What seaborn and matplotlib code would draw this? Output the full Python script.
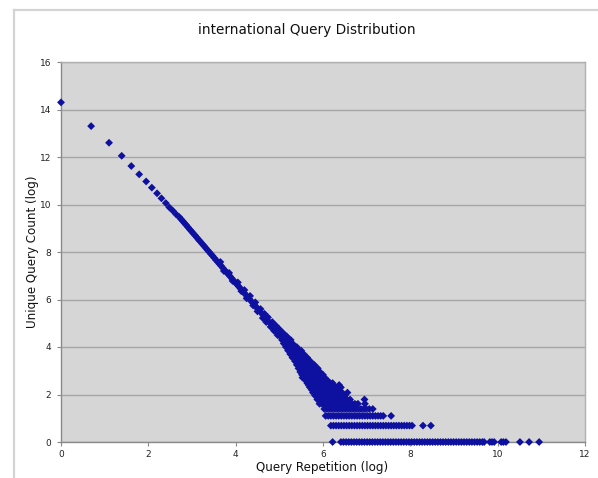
import matplotlib
matplotlib.use("Agg")
import matplotlib.pyplot as plt
from matplotlib.lines import Line2D
import seaborn as sns
import pandas as pd

# ---- data (log of repetition, log of unique query count) ----
head_x = [0.00, 0.69, 1.10, 1.39, 1.61, 1.79, 1.95, 2.08, 2.20, 2.30, 2.40, 2.48, 2.56, 2.64]
head_y = [14.30, 13.30, 12.60, 12.05, 11.62, 11.27, 10.97, 10.71, 10.47, 10.26, 10.06, 9.88, 9.74, 9.58]

line_x = [2.71, 2.75, 2.79, 2.83, 2.87, 2.91, 2.95, 2.99, 3.03, 3.07, 3.11, 3.15, 3.19, 3.23,
          3.27, 3.31, 3.35, 3.39, 3.43, 3.47, 3.51, 3.55, 3.59, 3.63, 3.67, 3.71, 3.75, 3.79,
          3.83, 3.87, 3.91, 3.95, 3.99, 4.03, 4.07, 4.11, 4.15, 4.19, 4.23, 4.27, 4.31, 4.35,
          4.39, 4.43, 4.47, 4.51, 4.55, 4.59, 4.63, 4.67, 4.71, 4.75, 4.79, 4.83, 4.87, 4.91, 4.95]
line_y = [9.47, 9.38, 9.30, 9.21, 9.13, 9.04, 8.95, 8.87, 8.78, 8.70, 8.61, 8.52, 8.44, 8.35,
          8.27, 8.18, 8.09, 8.01, 7.92, 7.84, 7.75, 7.66, 7.58, 7.49, 7.41, 7.32, 7.23, 7.15,
          7.06, 6.98, 6.89, 6.80, 6.72, 6.63, 6.55, 6.46, 6.37, 6.29, 6.20, 6.12, 6.03, 5.94,
          5.86, 5.77, 5.69, 5.60, 5.51, 5.43, 5.34, 5.26, 5.17, 5.08, 5.00, 4.91, 4.83, 4.74, 4.65]

spread_x = [3.65, 3.73, 3.85, 3.93, 4.05, 4.13, 4.20, 4.25, 4.33, 4.40, 4.45, 4.50, 4.57,
            4.62, 4.66, 4.70, 4.74, 4.80, 4.84, 4.88, 4.92, 4.96, 5.00]
spread_y = [7.58, 7.20, 7.12, 6.78, 6.72, 6.35, 6.40, 6.05, 6.15, 5.75, 5.88, 5.50, 5.60,
            5.22, 5.40, 5.05, 5.25, 4.85, 5.05, 4.68, 4.90, 4.50, 4.75]

cloud_levels = [4.60, 4.45, 4.30, 4.15, 4.00, 3.85, 3.70, 3.55, 3.40, 3.25, 3.10, 2.95,
                2.83, 2.71, 2.56, 2.48, 2.40, 2.30, 2.20, 2.08, 1.95, 1.79, 1.61, 1.39, 1.10]
cloud_rows = [
    [4.98, 5.03, 5.08],
    [5.02, 5.07, 5.12, 5.17],
    [5.06, 5.11, 5.16, 5.21, 5.26],
    [5.10, 5.15, 5.20, 5.25, 5.30],
    [5.15, 5.20, 5.25, 5.30, 5.35, 5.40],
    [5.20, 5.25, 5.30, 5.35, 5.40, 5.46, 5.50],
    [5.25, 5.30, 5.35, 5.40, 5.45, 5.50, 5.56],
    [5.30, 5.35, 5.40, 5.45, 5.50, 5.55, 5.60, 5.64],
    [5.36, 5.41, 5.46, 5.51, 5.56, 5.61, 5.66, 5.71],
    [5.40, 5.45, 5.50, 5.55, 5.60, 5.65, 5.70, 5.75, 5.80],
    [5.44, 5.49, 5.54, 5.59, 5.64, 5.69, 5.74, 5.79, 5.84, 5.88],
    [5.48, 5.53, 5.58, 5.63, 5.68, 5.73, 5.78, 5.83, 5.88, 5.93],
    [5.52, 5.57, 5.62, 5.67, 5.72, 5.77, 5.82, 5.87, 5.92, 5.97, 6.00],
    [5.53, 5.58, 5.63, 5.68, 5.73, 5.78, 5.83, 5.88, 5.93, 5.98, 6.04],
    [5.62, 5.67, 5.72, 5.77, 5.82, 5.87, 5.92, 5.97, 6.02, 6.07, 6.12],
    [5.64, 5.69, 5.74, 5.79, 5.84, 5.89, 5.94, 5.99, 6.04, 6.09, 6.16, 6.22],
    [5.67, 5.72, 5.77, 5.82, 5.87, 5.92, 5.97, 6.02, 6.07, 6.14, 6.22, 6.37],
    [5.70, 5.75, 5.80, 5.85, 5.90, 5.95, 6.00, 6.05, 6.10, 6.17, 6.30, 6.41],
    [5.74, 5.79, 5.84, 5.89, 5.94, 5.99, 6.04, 6.09, 6.14, 6.20, 6.27, 6.34],
    [5.77, 5.82, 5.87, 5.92, 5.97, 6.02, 6.07, 6.12, 6.18, 6.24, 6.30, 6.37, 6.44, 6.56],
    [5.82, 5.87, 5.92, 5.97, 6.02, 6.07, 6.12, 6.18, 6.24, 6.30, 6.36, 6.42, 6.50],
    [5.87, 5.92, 5.97, 6.02, 6.07, 6.12, 6.18, 6.24, 6.30, 6.36, 6.42, 6.48, 6.55, 6.62, 6.95],
    [5.92, 5.97, 6.02, 6.07, 6.13, 6.19, 6.25, 6.31, 6.37, 6.43, 6.49, 6.55, 6.61, 6.67,
     6.73, 6.80, 6.96],
    [6.03, 6.09, 6.15, 6.21, 6.27, 6.33, 6.39, 6.45, 6.51, 6.57, 6.63, 6.69, 6.75, 6.81,
     6.87, 6.93, 6.99, 7.06, 7.14],
    [6.06, 6.12, 6.18, 6.24, 6.30, 6.36, 6.42, 6.48, 6.54, 6.60, 6.66, 6.72, 6.78, 6.84,
     6.90, 6.96, 7.02, 7.08, 7.14, 7.20, 7.26, 7.32, 7.38, 7.56],
]

count2_y = 0.69
count2_x = [6.18, 6.24, 6.30, 6.36, 6.42, 6.48, 6.54, 6.60, 6.66, 6.72, 6.78, 6.84, 6.90,
            6.96, 7.02, 7.08, 7.14, 7.20, 7.26, 7.32, 7.38, 7.44, 7.50, 7.56, 7.62, 7.68,
            7.74, 7.80, 7.86, 7.92, 7.98, 8.04, 8.29, 8.47]

count1_y = 0.0
count1_x = [6.22, 6.41, 6.47, 6.53, 6.59, 6.65, 6.71, 6.77, 6.83, 6.89, 6.95, 7.01, 7.07,
            7.13, 7.19, 7.25, 7.31, 7.37, 7.43, 7.49, 7.55, 7.61, 7.67, 7.73, 7.79, 7.85,
            7.91, 7.97, 8.03, 8.09, 8.15, 8.21, 8.27, 8.33, 8.39, 8.45, 8.51, 8.57, 8.63,
            8.69, 8.75, 8.81, 8.87, 8.93, 8.99, 9.05, 9.11, 9.17, 9.23, 9.29, 9.35, 9.41,
            9.47, 9.53, 9.59, 9.65, 9.69, 9.82, 9.87, 9.92, 10.08, 10.13, 10.19, 10.51,
            10.72, 10.95]

x_ticks = [0, 2, 4, 6, 8, 10, 12]
y_ticks = [0, 2, 4, 6, 8, 10, 12, 14, 16]
title = "international Query Distribution"
x_label = "Query Repetition (log)"
y_label = "Unique Query Count (log)"

# ---- assemble table ----
xs = head_x + line_x + spread_x
ys = head_y + line_y + spread_y
for lvl, row in zip(cloud_levels, cloud_rows):
    xs += row
    ys += [lvl] * len(row)
xs += count2_x
ys += [count2_y] * len(count2_x)
xs += count1_x
ys += [count1_y] * len(count1_x)
df = pd.DataFrame({"x": xs, "y": ys})

# ---- figure ----
W, H = 598, 478
fig = plt.figure(figsize=(W / 100, H / 100), dpi=100)
fig.patch.set_facecolor("white")

# outer frame (top and left edges visible)
fig.add_artist(Line2D([14 / W, 14 / W], [0, 1 - 10 / H], color="#d4d4d4", lw=1.6))
fig.add_artist(Line2D([14 / W, 1.0], [1 - 10 / H, 1 - 10 / H], color="#d4d4d4", lw=1.6))

ax = fig.add_axes([61 / W, 1 - 442 / H, 524 / W, 380 / H])
ax.set_facecolor("#d6d6d6")

sns.scatterplot(data=df, x="x", y="y", marker="D", s=16, color="#0e11a0",
                linewidth=0, edgecolor="none", ax=ax, legend=False, clip_on=False, zorder=3)

ax.set_xlim(0, 12)
ax.set_ylim(0, 16)
ax.set_xticks(x_ticks)
ax.set_yticks(y_ticks)
ax.set_xticklabels([str(t) for t in x_ticks])
ax.set_yticklabels([str(t) for t in y_ticks])
ax.tick_params(axis="both", labelsize=6.5, colors="#888888", labelcolor="#222222",
               length=3, width=0.8, direction="out")
ax.tick_params(axis="x", pad=3)
ax.tick_params(axis="y", pad=4)
ax.grid(axis="y", color="#a6a6a6", lw=1.0)
ax.grid(axis="x", visible=False)
ax.set_axisbelow(True)
for side in ["left", "bottom"]:
    ax.spines[side].set_color("#8a8a8a")
    ax.spines[side].set_linewidth(1.0)
for side in ["top", "right"]:
    ax.spines[side].set_color("#b0b0b0")
    ax.spines[side].set_linewidth(1.0)

ax.set_xlabel("")
ax.set_ylabel("")
fig.text(322 / W, 1 - 467 / H, x_label, ha="center", va="center", fontsize=8.6, color="#111111")
fig.text(33 / W, 1 - 252 / H, y_label, ha="center", va="center", rotation=90,
         fontsize=8.6, color="#111111")
fig.text(307 / W, 1 - 30 / H, title, ha="center", va="center", fontsize=9.8, color="#111111")

fig.savefig("out.png", dpi=100)
